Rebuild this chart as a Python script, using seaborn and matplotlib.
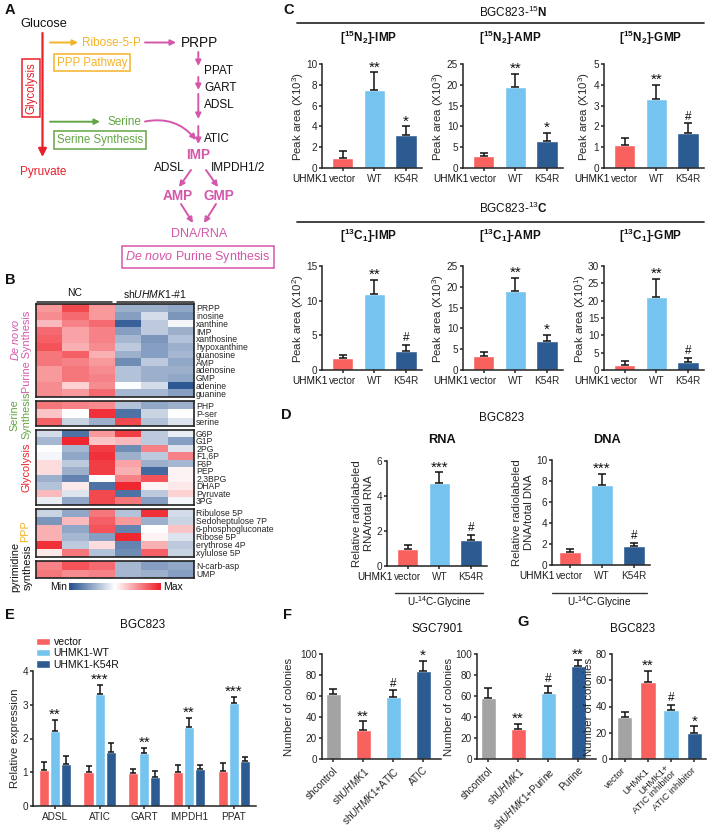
import numpy as np
import pandas as pd
import matplotlib
matplotlib.use('Agg')
import matplotlib as mpl
import matplotlib.pyplot as plt
from matplotlib.colors import LinearSegmentedColormap
import seaborn as sns

W, H = 709, 833

# colours
RED = '#f9615f'
LBLUE = '#75c4ef'
DBLUE = '#2c5b92'
GREY = '#a3a3a3'
PINK = '#d457aa'
ORANGE = '#f4b327'
GREEN = '#63a544'
GLYRED = '#e8202a'

#==================================================#
# Data
#==================================================#

# panel B heatmap (relative level, -1 = min, 1 = max)
purine_rows = ['PRPP', 'inosine', 'xanthine', 'IMP', 'xanthosine', 'hypoxanthine',
               'guanosine', 'AMP', 'adenosine', 'GMP', 'adenine', 'guanine']
purine_vals = [[0.45, 0.8, 0.45, -0.45, -0.45, -0.5],
               [0.5, 0.65, 0.45, -0.55, -0.2, -0.6],
               [0.3, 0.55, 0.65, -0.9, -0.3, -0.05],
               [0.65, 0.4, 0.55, -0.55, -0.3, -0.45],
               [0.7, 0.4, 0.55, -0.4, -0.6, -0.35],
               [0.75, 0.35, 0.5, -0.3, -0.55, -0.45],
               [0.6, 0.7, 0.35, -0.45, -0.55, -0.4],
               [0.6, 0.55, 0.45, -0.65, -0.3, -0.5],
               [0.45, 0.6, 0.5, -0.35, -0.45, -0.45],
               [0.45, 0.6, 0.55, -0.35, -0.45, -0.5],
               [0.5, 0.2, 0.5, -0.02, -0.2, -0.95],
               [0.5, 0.45, 0.65, -0.4, -0.4, -0.55]]
serine_rows = ['PHP', 'P-ser', 'serine']
serine_vals = [[0.6, 0.55, 0.5, -0.35, -0.5, -0.45],
               [0.25, 0.0, 0.9, -0.8, -0.25, 0.0],
               [0.7, -0.25, -0.45, 0.8, -0.35, -0.15]]
glyco_rows = ['G6P', 'G1P', '2PG', 'F1,6P', 'F6P', 'PEP', '2,3BPG', 'DHAP', 'Pyruvate', '3PG']
glyco_vals = [[-0.2, -0.8, 0.45, 0.85, -0.3, -0.1],
              [-0.4, 0.95, 0.25, 0.3, -0.3, -0.55],
              [0.0, -0.4, 0.85, -0.65, 0.55, -0.15],
              [-0.05, -0.5, 0.9, -0.45, -0.3, 0.55],
              [0.15, -0.3, 0.85, 0.4, -0.45, -0.4],
              [0.15, -0.45, 0.85, 0.35, -0.85, 0.05],
              [-0.45, -0.7, 0.0, 0.55, 0.75, 0.05],
              [-0.35, 0.1, -0.8, 0.95, 0.05, 0.1],
              [0.3, -0.15, 0.8, -0.8, -0.3, 0.2],
              [-0.1, -0.5, 0.8, 0.6, -0.55, -0.05]]
ppp_rows = ['Ribulose 5P', 'Sedoheptulose 7P', '6-phosphogluconate', 'Ribose 5P',
            'erythrose 4P', 'xylulose 5P']
ppp_vals = [[-0.25, -0.5, 0.6, -0.35, 0.9, -0.2],
            [-0.6, 0.3, 0.7, 0.45, -0.45, -0.25],
            [0.35, -0.5, 0.75, -0.7, 0.0, 0.25],
            [0.35, -0.4, -0.55, 0.95, 0.05, -0.15],
            [0.9, -0.3, 0.15, -0.7, 0.35, -0.3],
            [0.1, 0.6, -0.35, -0.65, 0.7, -0.25]]
pyr_rows = ['N-carb-asp', 'UMP']
pyr_vals = [[0.55, 0.75, 0.65, -0.4, -0.55, -0.5],
            [0.6, 0.5, 0.55, -0.4, -0.45, -0.55]]

# panel C / D bars
groups3 = ['vector', 'WT', 'K54R']
imp15_mean, imp15_err, imp15_stars = [1.0, 7.5, 3.2], [0.6, 1.7, 0.8], ['', '**', '*']
amp15_mean, amp15_err, amp15_stars = [2.8, 19.4, 6.6], [0.9, 3.2, 1.8], ['', '**', '*']
gmp15_mean, gmp15_err, gmp15_stars = [1.1, 3.3, 1.7], [0.35, 0.7, 0.45], ['', '**', '#']
imp13_mean, imp13_err, imp13_stars = [1.8, 11.0, 2.7], [0.3, 2.0, 0.9], ['', '**', '#']
amp13_mean, amp13_err, amp13_stars = [3.4, 18.9, 7.0], [0.9, 3.2, 1.4], ['', '**', '*']
gmp13_mean, gmp13_err, gmp13_stars = [1.5, 21.2, 2.2], [1.1, 5.1, 1.3], ['', '**', '#']
rna_mean, rna_err, rna_stars = [1.0, 4.75, 1.5], [0.2, 0.6, 0.3], ['', '***', '#']
dna_mean, dna_err, dna_stars = [1.2, 7.6, 1.8], [0.3, 1.05, 0.3], ['', '***', '#']

# panel E
genes = ['ADSL', 'ATIC', 'GART', 'IMPDH1', 'PPAT']
e_groups = ['vector', 'UHMK1-WT', 'UHMK1-K54R']
e_vector = [1.06, 1.02, 0.99, 1.01, 1.05]
e_vector_err = [0.23, 0.17, 0.12, 0.2, 0.22]
e_wt = [2.22, 3.33, 1.57, 2.33, 3.05]
e_wt_err = [0.34, 0.25, 0.15, 0.29, 0.18]
e_k54r = [1.24, 1.61, 0.85, 1.11, 1.32]
e_k54r_err = [0.25, 0.25, 0.18, 0.11, 0.13]
e_stars = ['**', '***', '**', '**', '***']

# panel F / G colonies
f1_labels = ['shcontrol', r'sh$\it{UHMK1}$', r'sh$\it{UHMK1}$+ATIC', 'ATIC']
f1_mean, f1_err, f1_stars = [62, 27.5, 59.5, 84], [5, 8.5, 6, 9.5], ['', '**', '#', '*']
f2_labels = ['shcontrol', r'sh$\it{UHMK1}$', r'sh$\it{UHMK1}$+Purine', 'Purine']
f2_mean, f2_err, f2_stars = [58.5, 28.5, 63, 89], [9, 5, 7, 5.3], ['', '**', '#', '**']
g_labels = ['vector', 'UHMK1', 'UHMK1+\nATIC inhibitor', 'ATIC inhibitor']
g_mean, g_err, g_stars = [32, 58.7, 37, 19.7], [3.7, 8.6, 4.3, 5.1], ['', '**', '#', '*']

#==================================================#
# Style
#==================================================#
sns.set_style('ticks')
plt.rcParams['font.family'] = ['Liberation Sans', 'DejaVu Sans']
plt.rcParams.update({
    'mathtext.fontset': 'custom',
    'mathtext.rm': 'Liberation Sans',
    'mathtext.it': 'Liberation Sans:italic',
    'mathtext.bf': 'Liberation Sans:bold',
    'axes.linewidth': 1.1,
    'axes.edgecolor': '#222222',
    'xtick.major.width': 1.1,
    'ytick.major.width': 1.1,
    'xtick.major.size': 2.5,
    'ytick.major.size': 2.5,
    'xtick.major.pad': 2,
    'ytick.major.pad': 1.0,
    'xtick.labelsize': 7.2,
    'ytick.labelsize': 7.2,
    'axes.labelsize': 8.2,
    'text.color': '#111111',
})

fig = plt.figure(figsize=(W / 100, H / 100), dpi=100)


def px_axes(x0, y0, x1, y1):
    return fig.add_axes([x0 / W, 1 - y1 / H, (x1 - x0) / W, (y1 - y0) / H])


def set_ylab(ax, box, text, cx, nlines=1):
    ax.set_ylabel(text)
    right = cx + 6.5 * nlines
    ax.yaxis.set_label_coords((right - box[0]) / (box[2] - box[0]), 0.5)


def put_stars(ax, xs, tops, stars):
    for x, t, s in zip(xs, tops, stars):
        if s:
            star = '*' in s
            ax.annotate(s, (x, t), xytext=(0, -1.5 if star else 0.5), textcoords='offset points',
                        ha='center', va='bottom', fontsize=11 if star else 8.5)


def bar_panel(box, labels, means, errs, colors, stars, yticks, xlim, width=0.68):
    ax = px_axes(*box)
    df = pd.DataFrame({'group': labels, 'value': means})
    sns.barplot(data=df, x='group', y='value', hue='group', palette=dict(zip(labels, colors)),
                width=width, legend=False, errorbar=None, saturation=1, ax=ax)
    centers = [p.get_x() + p.get_width() / 2 for p in ax.patches]
    ax.errorbar(centers, means, yerr=[np.zeros(len(errs)), errs], fmt='none',
                ecolor='#111111', elinewidth=1.1, capsize=3, capthick=1.1)
    put_stars(ax, centers, np.add(means, errs), stars)
    ax.set_ylim(yticks[0], yticks[-1])
    ax.set_yticks(yticks)
    ax.set_xlim(*xlim)
    ax.set_xlabel('')
    ax.set_ylabel('')
    sns.despine(ax=ax)
    return ax


# overlay for the diagram / free text, in pixel coordinates
ov = fig.add_axes([0, 0, 1, 1])
ov.set_xlim(0, W)
ov.set_ylim(H, 0)
ov.axis('off')


def arrow(p0, p1, color, lw=1.4, ms=8, rad=0.0):
    ov.annotate('', xy=p1, xytext=p0,
                arrowprops=dict(arrowstyle='-|>', color=color, lw=lw, mutation_scale=ms,
                                shrinkA=0, shrinkB=0, connectionstyle=f'arc3,rad={rad}'))


def boxed(x, y, s, color, size=8.3, rot=0):
    ov.text(x, y, s, color=color, fontsize=size, ha='center', va='center', rotation=rot,
            bbox=dict(boxstyle='square,pad=0.25', fc='white', ec=color, lw=1.1))


# panel letters
for letter, x, y in [('A', 5, 10), ('B', 5, 280), ('C', 283, 10), ('D', 281, 415),
                     ('E', 5, 615), ('F', 283, 615), ('G', 517, 622)]:
    ov.text(x, y, letter, fontsize=10.5, fontweight='bold', va='center')

#==================================================#
# Panel A: pathway diagram
#==================================================#
ov.text(20, 24, 'Glucose', fontsize=9.2, va='center')
arrow((42.5, 33), (42.5, 157), GLYRED, lw=1.6, ms=12)
boxed(31, 88, 'Glycolysis', GLYRED, rot=90)
ov.text(20, 172, 'Pyruvate', color=GLYRED, fontsize=8.5, va='center')
arrow((50, 42.5), (78, 42.5), ORANGE)
ov.text(82, 42.5, 'Ribose-5-P', color=ORANGE, fontsize=8.5, va='center')
arrow((145, 42.5), (176, 42.5), PINK)
ov.text(181, 42.5, 'PRPP', fontsize=9.8, va='center')
boxed(92, 62.5, 'PPP Pathway', ORANGE)
for y0, y1 in [(52, 66), (77, 90), (94, 119), (126, 144)]:
    arrow((198.3, y0), (198.3, y1), PINK)
for name, y in [('PPAT', 71), ('GART', 88), ('ADSL', 105), ('ATIC', 139)]:
    ov.text(204, y, name, fontsize=8.5, va='center')
arrow((50, 121.7), (100, 121.7), GREEN)
ov.text(108, 121.7, 'Serine', color=GREEN, fontsize=8.5, va='center')
arrow((145, 121.5), (196, 140), PINK, rad=-0.3)
boxed(100, 140, 'Serine Synthesis', GREEN)
ov.text(198, 155, 'IMP', color=PINK, fontsize=9.8, fontweight='bold', ha='center', va='center')
ov.text(185, 168, 'ADSL', fontsize=8.5, ha='right', va='center')
ov.text(211, 168, 'IMPDH1/2', fontsize=8.5, ha='left', va='center')
arrow((191, 170), (179, 187), PINK)
arrow((206, 170), (218, 187), PINK)
ov.text(178, 195.5, 'AMP', color=PINK, fontsize=9.8, fontweight='bold', ha='center', va='center')
ov.text(219, 195.5, 'GMP', color=PINK, fontsize=9.8, fontweight='bold', ha='center', va='center')
arrow((181, 204), (193, 223), PINK)
arrow((216, 204), (204, 223), PINK)
ov.text(199, 233.5, 'DNA/RNA', color=PINK, fontsize=9, ha='center', va='center')
boxed(198, 257, r'$\it{De\ novo}$ Purine Synthesis', PINK, size=9)

#==================================================#
# Panel B: heatmap
#==================================================#
cmap = LinearSegmentedColormap.from_list('minmax', ['#234f8e', '#ffffff', '#ef1c24'])
blocks = [(purine_rows, purine_vals, 304, 397), (serine_rows, serine_vals, 401, 426),
          (glyco_rows, glyco_vals, 429.5, 504.5), (ppp_rows, ppp_vals, 509, 557),
          (pyr_rows, pyr_vals, 561, 578)]
for rows, vals, y0, y1 in blocks:
    ax = px_axes(36, y0, 194, y1)
    sns.heatmap(pd.DataFrame(vals, index=rows), cmap=cmap, vmin=-1, vmax=1, cbar=False,
                xticklabels=False, yticklabels=True, ax=ax)
    ax.yaxis.tick_right()
    ax.tick_params(axis='y', length=0, labelsize=6.2, pad=1.5, labelrotation=0)
    ax.set_ylabel('')
    for sp in ax.spines.values():
        sp.set_visible(True)
        sp.set_linewidth(1.2)
        sp.set_color('#222222')

cax = px_axes(69, 583, 161, 590)
cb = fig.colorbar(mpl.cm.ScalarMappable(norm=mpl.colors.Normalize(-1, 1), cmap=cmap),
                  cax=cax, orientation='horizontal')
cb.set_ticks([])
cb.outline.set_visible(False)
ov.text(67, 586.5, 'Min', fontsize=7.5, ha='right', va='center')
ov.text(163, 586.5, 'Max', fontsize=7.5, ha='left', va='center')

ov.text(75, 293.5, 'NC', fontsize=7.5, ha='center', va='center')
ov.text(155, 293.5, r'sh$\it{UHMK1}$-#1', fontsize=7.5, ha='center', va='center')
ov.plot([36.7, 111.7], [301.7, 301.7], color='#222222', lw=1.1)
ov.plot([116.7, 194.3], [301.7, 301.7], color='#222222', lw=1.1)
ov.text(15, 340, r'$\it{De\ novo}$', color=PINK, fontsize=7.8, rotation=90, ha='center', va='center')
ov.text(27, 352, 'Purine Synthesis', color=PINK, fontsize=7.8, rotation=90, ha='center', va='center')
ov.text(14.5, 415, 'Serine', color=GREEN, fontsize=7.8, rotation=90, ha='center', va='center')
ov.text(26.5, 415, 'Synthesis', color=GREEN, fontsize=7.8, rotation=90, ha='center', va='center')
ov.text(26.5, 467, 'Glycolysis', color=GLYRED, fontsize=7.8, rotation=90, ha='center', va='center')
ov.text(25.5, 531, 'PPP', color=ORANGE, fontsize=7.8, rotation=90, ha='center', va='center')
ov.text(15, 567, 'pyrimidine', fontsize=7.8, rotation=90, ha='center', va='center')
ov.text(27.5, 567, 'synthesis', fontsize=7.8, rotation=90, ha='center', va='center')

#==================================================#
# Panel C: isotope tracing bars
#==================================================#
cols3 = [RED, LBLUE, DBLUE]
xlim3 = (-0.65, 2.5)
c_panels = [
    ((322, 64, 422, 168), imp15_mean, imp15_err, imp15_stars, [0, 2, 4, 6, 8, 10],
     r'[$^{\mathbf{15}}$N$_{\mathbf{2}}$]-IMP', 'Peak area (X10$^3$)', 299, 38),
    ((463, 64, 563, 168), amp15_mean, amp15_err, amp15_stars, [0, 5, 10, 15, 20, 25],
     r'[$^{\mathbf{15}}$N$_{\mathbf{2}}$]-AMP', 'Peak area (X10$^3$)', 440, 38),
    ((604, 64, 704, 168), gmp15_mean, gmp15_err, gmp15_stars, [0, 1, 2, 3, 4, 5],
     r'[$^{\mathbf{15}}$N$_{\mathbf{2}}$]-GMP', 'Peak area (X10$^3$)', 586, 38),
    ((322, 266, 422, 370), imp13_mean, imp13_err, imp13_stars, [0, 5, 10, 15],
     r'[$^{\mathbf{13}}$C$_{\mathbf{1}}$]-IMP', 'Peak area (X10$^2$)', 299, 236),
    ((463, 266, 563, 370), amp13_mean, amp13_err, amp13_stars, [0, 5, 10, 15, 20, 25],
     r'[$^{\mathbf{13}}$C$_{\mathbf{1}}$]-AMP', 'Peak area (X10$^3$)', 440, 236),
    ((604, 266, 704, 370), gmp13_mean, gmp13_err, gmp13_stars, [0, 5, 10, 15, 20, 25, 30],
     r'[$^{\mathbf{13}}$C$_{\mathbf{1}}$]-GMP', 'Peak area (X10$^1$)', 581, 236),
]
for box, m, e, s, yt, title, ylab, ylx, ty in c_panels:
    ax = bar_panel(box, groups3, m, e, cols3, s, yt, xlim3)
    set_ylab(ax, box, ylab, ylx)
    ax.annotate('UHMK1', xy=(0, 0), xycoords=('data', 'axes fraction'), xytext=(-10.5, -4.5),
                textcoords='offset points', ha='right', va='top', fontsize=7.2)
    ov.text((box[0] + box[2]) / 2 - 3, ty, title, fontsize=8.5, fontweight='bold',
            ha='center', va='center')

ov.text(513, 12.5, r'BGC823-$^{15}\mathbf{N}$', fontsize=8.5, ha='center', va='center')
ov.plot([297, 704], [22.7, 22.7], color='#333333', lw=1.3)
ov.text(513, 208, r'BGC823-$^{13}\mathbf{C}$', fontsize=8.5, ha='center', va='center')
ov.plot([297, 704], [221.7, 221.7], color='#333333', lw=1.3)

#==================================================#
# Panel D: radiolabel incorporation
#==================================================#
d_panels = [((387, 461, 487, 566), rna_mean, rna_err, rna_stars, [0, 2, 4, 6], (-0.65, 2.5),
             'RNA', 'Relative radiolabeled\nRNA/total RNA', 361, 441.7, (395, 483)),
            ((552, 460, 650, 565), dna_mean, dna_err, dna_stars, [0, 2, 4, 6, 8, 10], (-0.55, 2.5),
             'DNA', 'Relative radiolabeled\nDNA/total DNA', 521, 606.7, (552, 647))]
for box, m, e, s, yt, xl, title, ylab, ylx, tx, line in d_panels:
    ax = bar_panel(box, groups3, m, e, cols3, s, yt, xl)
    set_ylab(ax, box, ylab, ylx, nlines=2)
    ax.annotate('UHMK1', xy=(0, 0), xycoords=('data', 'axes fraction'), xytext=(-10.5, -4.5),
                textcoords='offset points', ha='right', va='top', fontsize=7.2)
    ov.text(tx, 440, title, fontsize=9.2, fontweight='bold', ha='center', va='center')
    ov.plot(line, [592.7, 592.7], color='#333333', lw=1.0)
    ov.text((line[0] + line[1]) / 2, 602, r'U-$^{14}$C-Glycine', fontsize=7.2, ha='center', va='center')
ov.text(502, 418, 'BGC823', fontsize=8.5, ha='center', va='center')

#==================================================#
# Panel E: gene expression
#==================================================#
e_box = (33, 671, 256, 806)
ax = px_axes(*e_box)
e_df = pd.DataFrame({
    'gene': genes * 3,
    'group': [g for g in e_groups for _ in genes],
    'value': e_vector + e_wt + e_k54r,
})
sns.barplot(data=e_df, x='gene', y='value', hue='group', hue_order=e_groups,
            palette=cols3, width=0.74, gap=0.08, saturation=1, errorbar=None, ax=ax)
for cont, means, errs in zip(ax.containers, [e_vector, e_wt, e_k54r],
                             [e_vector_err, e_wt_err, e_k54r_err]):
    xs = [p.get_x() + p.get_width() / 2 for p in cont.patches]
    ax.errorbar(xs, means, yerr=[np.zeros(len(errs)), errs], fmt='none',
                ecolor='#111111', elinewidth=1.1, capsize=2.5, capthick=1.1)
    if means is e_wt:
        put_stars(ax, xs, np.add(means, errs), e_stars)
ax.set_ylim(0, 4)
ax.set_yticks([0, 1, 2, 3, 4])
ax.set_xlim(-0.49, 4.5)
ax.set_xlabel('')
set_ylab(ax, e_box, 'Relative expression', 14)
sns.despine(ax=ax)
sns.move_legend(ax, 'upper left', bbox_to_anchor=(36 / W, 1 - 637 / H),
                bbox_transform=fig.transFigure, frameon=False, title=None, fontsize=7.5,
                handlelength=1.3, handleheight=0.75, labelspacing=0.12, borderpad=0,
                borderaxespad=0, handletextpad=0.4)
ov.text(143, 625, 'BGC823', fontsize=8.5, ha='center', va='center')

#==================================================#
# Panel F / G: colony formation
#==================================================#
cols4 = [GREY, RED, LBLUE, DBLUE]
fg_panels = [((321.7, 654, 441, 759), f1_labels, f1_mean, f1_err, f1_stars,
              [0, 20, 40, 60, 80, 100], (-0.38, 3.6), 0.5, 287, 7.2, 'top'),
             ((476.7, 654, 596, 759), f2_labels, f2_mean, f2_err, f2_stars,
              [0, 20, 40, 60, 80, 100], (-0.38, 3.6), 0.5, 447, 7.2, 'top'),
             ((611.7, 654, 706, 759), g_labels, g_mean, g_err, g_stars,
              [0, 20, 40, 60, 80], (-0.56, 3.5), 0.67, 587, 6.8, 'center')]
for box, labels, m, e, s, yt, xl, wd, ylx, fs, va in fg_panels:
    ax = bar_panel(box, labels, m, e, cols4, s, yt, xl, width=wd)
    set_ylab(ax, box, 'Number of colonies', ylx)
    if va == 'center':
        ax.tick_params(axis='x', pad=5)
    for lbl in ax.get_xticklabels():
        lbl.set_rotation(45)
        lbl.set_ha('right')
        lbl.set_va(va)
        lbl.set_rotation_mode('anchor')
        lbl.set_multialignment('right')
        lbl.set_fontsize(fs)
        lbl.set_linespacing(0.95)
ov.text(437, 629, 'SGC7901', fontsize=8.5, ha='center', va='center')
ov.text(633, 629, 'BGC823', fontsize=8.5, ha='center', va='center')

fig.savefig('out.png', dpi=100)
